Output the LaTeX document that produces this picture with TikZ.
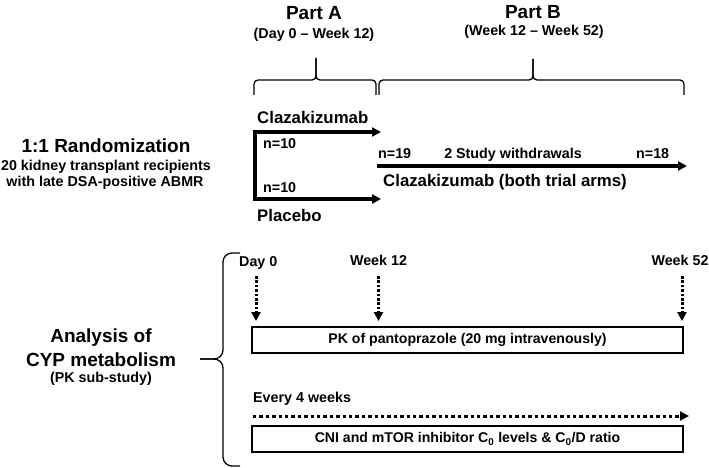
\documentclass[tikz,border=0pt]{standalone}
\usepackage{fontspec}
\setmainfont{Liberation Sans}
\usetikzlibrary{arrows.meta}
\begin{document}
\begin{tikzpicture}[x=1pt,y=-1pt,
  txs/.style={font=\bfseries\fontsize{14.3}{16}\selectfont, inner sep=0pt},
  txm/.style={font=\bfseries\fontsize{16.8}{19}\selectfont, inner sep=0pt},
  txl/.style={font=\bfseries\fontsize{19}{22}\selectfont, inner sep=0pt},
  thickarrow/.style={line width=3.2pt, line join=miter, -{Triangle[length=9pt,width=9pt]}},
  dotarrow/.style={line width=3pt, dash pattern=on 2.6pt off 1.8pt, -{Triangle[length=9pt,width=9pt]}},
  dotharrow/.style={line width=3pt, dash pattern=on 3.4pt off 3pt, -{Triangle[length=9pt,width=9pt]}},
  bracepath/.style={line width=1.3pt, rounded corners=4pt},
  bigbrace/.style={line width=1.3pt, rounded corners=9pt},
  timebox/.style={draw, line width=2.5pt, minimum width=431pt, minimum height=26pt, inner sep=0pt,
     font=\bfseries\fontsize{14.1}{16}\selectfont}]
\useasboundingbox (0,0) rectangle (709,468);

% headings
\node[txl, anchor=base] (partA) at (314,20) {Part A};
\node[txs, anchor=base] (partAd) at (314,38.5) {(Day 0 -- Week 12)};
\node[txl, anchor=base] (partB) at (533,18.5) {Part B};
\node[txs, anchor=base] (partBd) at (534,35.3) {(Week 12 -- Week 52)};

% top braces
\draw[bracepath] (254,95) -- (254,80) -- (316,80) -- (316,58);
\draw[bracepath] (316,58) -- (316,80) -- (376,80) -- (376,95);
\draw[bracepath] (379,95) -- (379,80) -- (533,80) -- (533,59);
\draw[bracepath] (533,59) -- (533,80) -- (684,80) -- (684,95);

% randomization
\node[txl, anchor=base] (rand) at (106,152.5) {1:1 Randomization};
\node[txs, anchor=base] (rand2) at (106,170.3) {20 kidney transplant recipients};
\node[txs, anchor=base] (rand3) at (105,186.5) {with late DSA-positive ABMR};

\node[txm, anchor=base west] (claz) at (257,124) {Clazakizumab};
\node[txs, anchor=base west] (n1) at (263,149) {n=10};
\node[txs, anchor=base west] (n2) at (263,192.5) {n=10};
\node[txm, anchor=base west] (plac) at (257,221.5) {Placebo};

\coordinate (armAend) at (381,132);
\coordinate (cornerA) at (255,132);
\coordinate (cornerB) at (255,199);
\coordinate (armBend) at (381,199);
\draw[thickarrow, {Triangle[length=9pt,width=9pt]}-{Triangle[length=9pt,width=9pt]}]
  (armAend) -- (cornerA) -- (cornerB) -- (armBend);

% part B arm
\node[txs, anchor=base west] (n19) at (378,158) {n=19};
\node[txs, anchor=base] (withdr) at (513,158) {2 Study withdrawals};
\node[txs, anchor=base west] (n18) at (636,158) {n=18};
\coordinate (bstart) at (377,166);
\coordinate (bend) at (687,166);
\draw[thickarrow] (bstart) -- (bend);
\node[txm, anchor=base west] (both) at (383,186.5) {Clazakizumab (both trial arms)};

% analysis
\node[txl, anchor=base] (anal1) at (101,342.5) {Analysis of};
\node[txl, anchor=base] (anal2) at (101,366) {CYP metabolism};
\node[txs, anchor=base] (anal3) at (101,382) {(PK sub-study)};

\draw[bigbrace] (240,253) -- (223,253) -- (223,359) -- (200,359);
\draw[bigbrace] (200,359) -- (223,359) -- (223,466) -- (240,466);

% time points
\node[txs, anchor=base west] (d0) at (239,266) {Day 0};
\node[txs, anchor=base] (w12) at (378.5,265) {Week 12};
\node[txs, anchor=base] (w52) at (680,265) {Week 52};
\coordinate (d0a) at (256,276);
\coordinate (d0b) at (256,321);
\coordinate (w12a) at (378.5,276);
\coordinate (w12b) at (378.5,321);
\coordinate (w52a) at (682,276);
\coordinate (w52b) at (682,321);
\draw[dotarrow] (d0a) -- (d0b);
\draw[dotarrow] (w12a) -- (w12b);
\draw[dotarrow] (w52a) -- (w52b);

\node[timebox] (pk) at (467.5,340) {PK of pantoprazole (20 mg intravenously)};

\node[txs, anchor=base west] (every) at (253,402) {Every 4 weeks};
\coordinate (ea) at (253,416);
\coordinate (eb) at (689,416);
\draw[dotharrow] (ea) -- (eb);

\node[timebox] (cni) at (467.5,439) {CNI and mTOR inhibitor C\textsubscript{0} levels \& C\textsubscript{0}/D ratio};
\end{tikzpicture}
\end{document}
